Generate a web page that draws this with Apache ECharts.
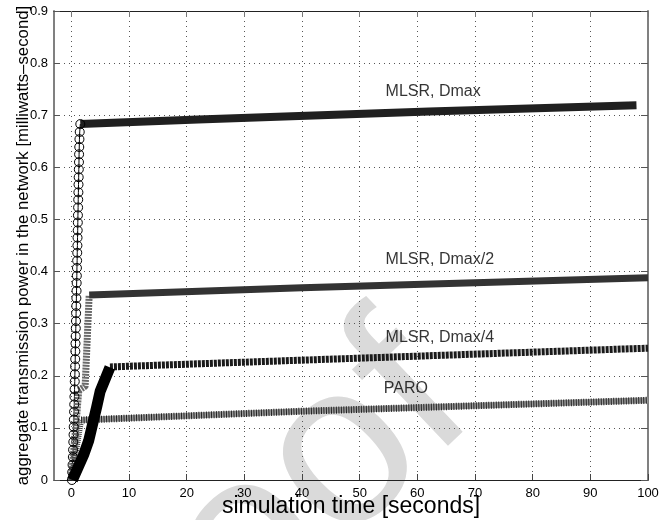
<!DOCTYPE html>
<html>
<head>
<meta charset="utf-8">
<script src="https://cdn.jsdelivr.net/npm/echarts@6.0.0/dist/echarts.min.js"></script>
<style>
  html, body { margin: 0; padding: 0; background: #fff; }
  #chart { width: 670px; height: 520px; }
</style>
</head>
<body>
<div id="chart"></div>
<script>
// tick positions on the x axis (the axis itself starts a little left of 0)
const xTicks = [0, 10, 20, 30, 40, 50, 60, 70, 80, 90, 100];

// MLSR, Dmax : the climb drawn with circles, then the nearly flat band
const dmaxRiseX = [0.10, 0.16, 0.22, 0.27, 0.31, 0.35, 0.39, 0.42, 0.45, 0.48, 0.51, 0.54,
    0.57, 0.60, 0.62, 0.65, 0.68, 0.70, 0.73, 0.76, 0.78, 0.81, 0.83, 0.86, 0.88, 0.91,
    0.93, 0.96, 0.98, 1.01, 1.03, 1.06, 1.08, 1.11, 1.13, 1.15, 1.18, 1.20, 1.23, 1.25,
    1.28, 1.30, 1.33, 1.35, 1.38, 1.41, 1.46, 1.56];
const dmaxRiseY = [0.000, 0.015, 0.029, 0.044, 0.058, 0.073, 0.087, 0.102, 0.116, 0.131,
    0.145, 0.160, 0.174, 0.189, 0.203, 0.218, 0.232, 0.247, 0.262, 0.276, 0.291, 0.305,
    0.320, 0.334, 0.349, 0.363, 0.378, 0.392, 0.407, 0.421, 0.436, 0.450, 0.465, 0.479,
    0.494, 0.508, 0.523, 0.538, 0.552, 0.567, 0.581, 0.596, 0.610, 0.625, 0.639, 0.654,
    0.668, 0.683];
const dmaxFlatX = [1.56, 22, 62, 98];
const dmaxFlatY = [0.683, 0.692, 0.707, 0.719];

// MLSR, Dmax/2
const dmax2RiseX = [0, 1.3, 2.4, 3.1];
const dmax2RiseY = [0, 0.172, 0.180, 0.355];
const dmax2FlatX = [3.1, 40, 100];
const dmax2FlatY = [0.355, 0.369, 0.388];

// MLSR, Dmax/4
const dmax4RiseX = [0.2, 2.2, 3.0, 4.4, 5.0, 6.7];
const dmax4RiseY = [0, 0.050, 0.075, 0.140, 0.170, 0.216];
const dmax4FlatX = [6.7, 40, 100];
const dmax4FlatY = [0.217, 0.230, 0.253];

// PARO
const paroRiseX = [0, 1.7];
const paroRiseY = [0, 0.115];
const paroFlatX = [1.7, 40, 100];
const paroFlatY = [0.115, 0.132, 0.153];

// curve labels
const labelText = ['MLSR, Dmax', 'MLSR, Dmax/2', 'MLSR, Dmax/4', 'PARO'];
const labelX = [54.5, 54.5, 54.5, 54.2];
const labelY = [0.745, 0.422, 0.274, 0.175];

const FONT = 'Liberation Sans, Arial, Helvetica, sans-serif';

function pairs(xs, ys) {
    return xs.map((x, i) => [x, ys[i]]);
}

function band(name, xs, ys, width, color, dash) {
    return {
        name: name, type: 'line', data: pairs(xs, ys),
        symbol: 'none', silent: true,
        lineStyle: { width: width, color: color, type: dash || 'solid', cap: 'butt', join: 'round' }
    };
}

const chart = echarts.init(document.getElementById('chart'), null, { renderer: 'canvas' });

function dotted() {
    return { show: true, lineStyle: { color: '#555', width: 1, type: [1, 4] } };
}

chart.setOption({
    animation: false,
    backgroundColor: '#fff',
    grid: { left: 54, right: 22, top: 11, bottom: 40, outerBoundsMode: 'none', containLabel: false },
    graphic: [{
        // the grey "Proof" stamp running across the page, kept under axes and curves
        type: 'text', z: 0, silent: true,
        x: 515, y: 453, rotation: 0.76,
        style: {
            text: 'Proof', fill: '#dadada',
            font: '230px ' + FONT,
            textAlign: 'right', textVerticalAlign: 'bottom'
        }
    }],
    xAxis: [{
        type: 'value', min: -3, max: 100, position: 'bottom', z: 1,
        name: 'simulation time [seconds]', nameLocation: 'middle', nameGap: 15,
        nameMoveOverlap: false,
        nameTextStyle: { fontFamily: FONT, fontSize: 23, color: '#000', verticalAlign: 'top' },
        axisLine: { show: true, onZero: false, lineStyle: { color: '#222', width: 1 } },
        axisTick: { show: true, inside: true, length: 6, customValues: xTicks, lineStyle: { color: '#444' } },
        axisLabel: { customValues: xTicks, fontFamily: FONT, fontSize: 13, color: '#000', margin: 7 },
        splitLine: dotted()
    }, {
        type: 'value', min: -3, max: 100, position: 'top', z: 1,
        axisLine: { show: true, onZero: false, lineStyle: { color: '#222', width: 1 } },
        axisTick: { show: true, inside: true, length: 6, customValues: xTicks, lineStyle: { color: '#777' } },
        axisLabel: { show: false },
        splitLine: { show: false }
    }],
    yAxis: [{
        type: 'value', min: 0, max: 0.9, interval: 0.1, position: 'left', z: 1,
        name: 'aggregate transmission power in the network [milliwatts\u2013second]',
        nameLocation: 'middle', nameGap: 22, nameRotate: 90, nameMoveOverlap: false,
        nameTextStyle: { fontFamily: FONT, fontSize: 16.8, color: '#000' },
        axisLine: { show: true, onZero: false, lineStyle: { color: '#808080', width: 2 } },
        axisTick: { show: true, inside: true, length: 6, lineStyle: { color: '#555' } },
        axisLabel: { fontFamily: FONT, fontSize: 13, color: '#000', margin: 6 },
        splitLine: dotted()
    }, {
        type: 'value', min: 0, max: 0.9, interval: 0.1, position: 'right', z: 1,
        axisLine: { show: true, onZero: false, lineStyle: { color: '#808080', width: 2 } },
        axisTick: { show: true, inside: true, length: 7, lineStyle: { color: '#555' } },
        axisLabel: { show: false },
        splitLine: { show: false }
    }],
    series: [
        band('MLSR, Dmax', dmaxFlatX, dmaxFlatY, 8, '#202020'),
        {
            name: 'MLSR, Dmax', type: 'line', data: pairs(dmaxRiseX, dmaxRiseY),
            showAllSymbol: true, symbol: 'circle', symbolSize: 9,
            itemStyle: { color: 'rgba(0,0,0,0)', borderColor: '#000', borderWidth: 1 },
            lineStyle: { color: '#000', width: 1 }
        },
        band('MLSR, Dmax/2', dmax2RiseX, dmax2RiseY, 7, '#6a6a6a', [2, 1]),
        band('MLSR, Dmax/2', dmax2FlatX, dmax2FlatY, 7, '#333'),
        band('PARO', paroRiseX, paroRiseY, 6, '#444', [1, 1]),
        band('PARO', paroFlatX, paroFlatY, 6, '#9a9a9a'),
        band('PARO', paroFlatX, paroFlatY, 7, '#222', [1, 1.5]),
        band('MLSR, Dmax/4', dmax4FlatX, dmax4FlatY, 7, '#1a1a1a', [3, 1]),
        band('MLSR, Dmax/4', dmax4RiseX, dmax4RiseY, 11, '#000'),
        {
            name: 'labels', type: 'scatter', symbolSize: 0, silent: true,
            data: labelText.map((t, i) => ({ value: [labelX[i], labelY[i]], name: t })),
            label: {
                show: true, position: 'right', distance: 0, formatter: '{b}',
                fontFamily: FONT, fontSize: 16, color: '#000'
            }
        }
    ]
});
</script>
</body>
</html>
